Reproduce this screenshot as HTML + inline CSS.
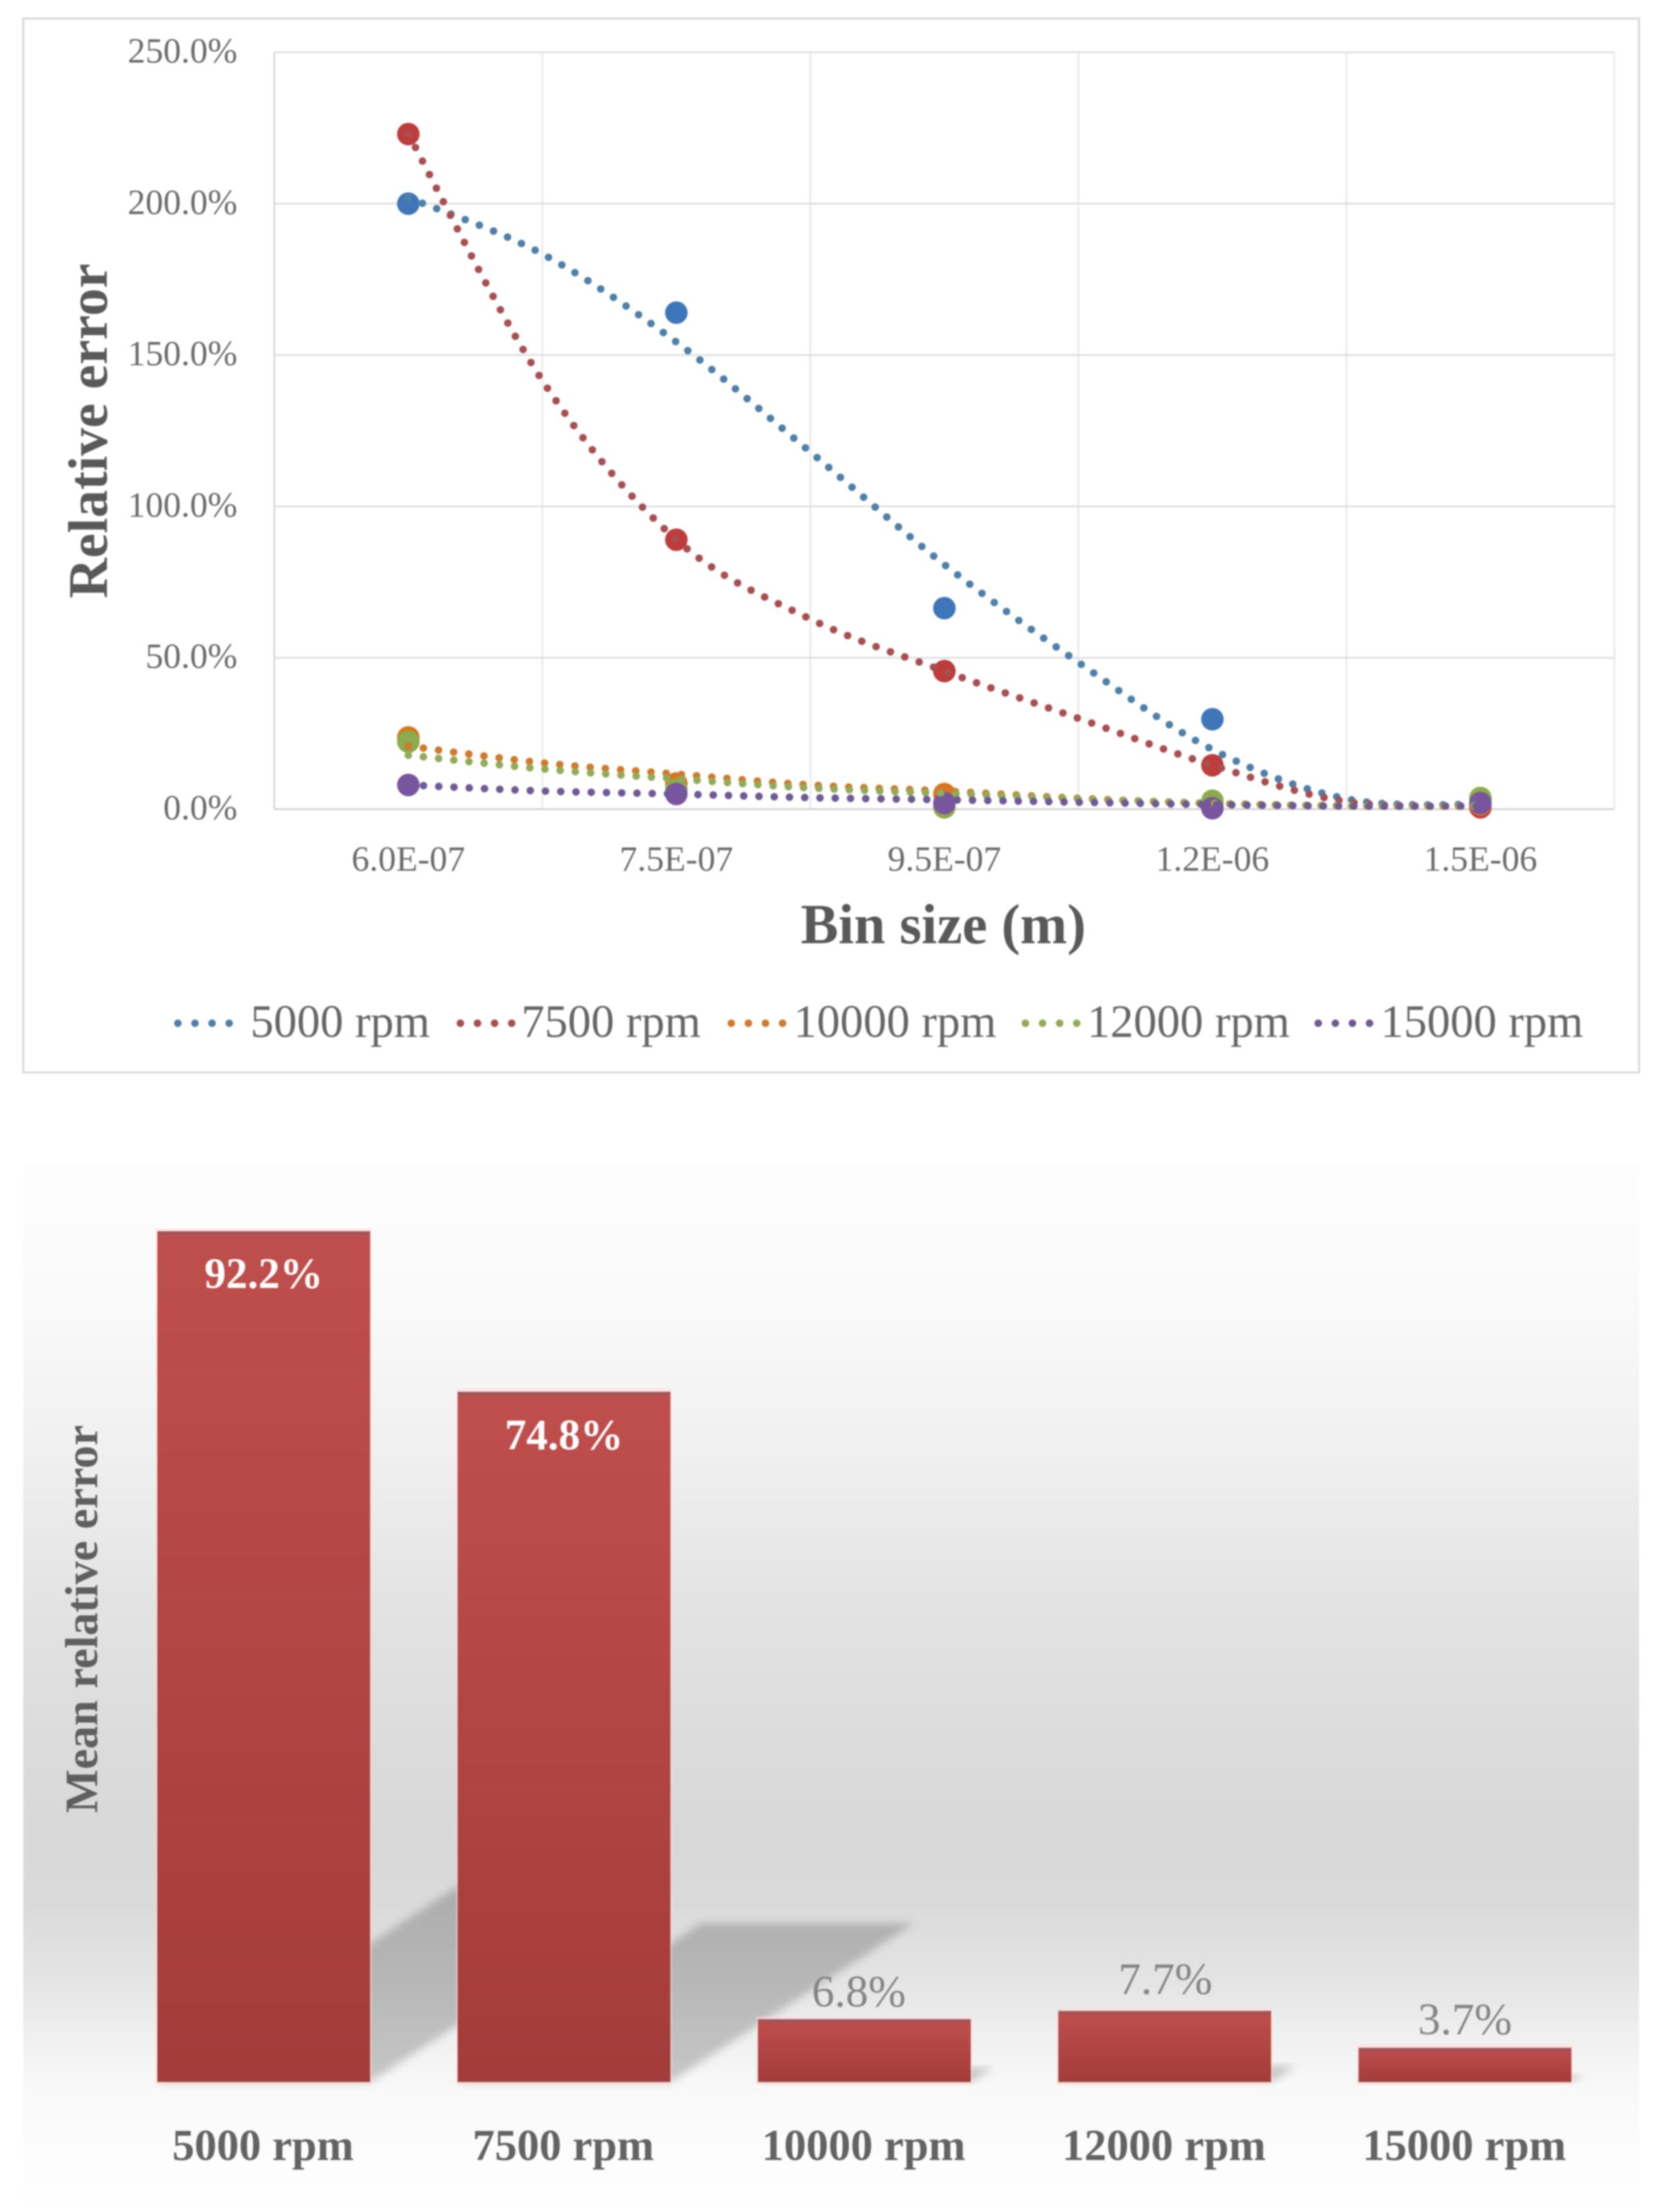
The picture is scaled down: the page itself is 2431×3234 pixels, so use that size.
<!DOCTYPE html>
<html lang="en">
<head>
<meta charset="utf-8">
<title>Relative error vs bin size and mean relative error</title>
<style>
html,body{margin:0;padding:0;background:#fff;}
svg{display:block;filter:blur(1px);}
text{font-family:"Liberation Serif",serif;}
</style>
</head>
<body>
<svg id="figure" xmlns="http://www.w3.org/2000/svg" width="2431" height="3234" viewBox="0 0 2431 3234">
  <defs>
    <linearGradient id="panelGrad" gradientUnits="userSpaceOnUse" x1="0" y1="1704" x2="0" y2="3234">
      <stop offset="0" stop-color="#fdfdfd"/>
      <stop offset="0.136" stop-color="#fafafa"/>
      <stop offset="0.167" stop-color="#f7f7f7"/>
      <stop offset="0.272" stop-color="#f0f0f0"/>
      <stop offset="0.408" stop-color="#e4e4e4"/>
      <stop offset="0.544" stop-color="#dcdcdc"/>
      <stop offset="0.647" stop-color="#d8d8d8"/>
      <stop offset="0.715" stop-color="#dbdbdb"/>
      <stop offset="0.783" stop-color="#e5e5e5"/>
      <stop offset="0.844" stop-color="#f2f2f2"/>
      <stop offset="0.885" stop-color="#f9f9f9"/>
      <stop offset="0.953" stop-color="#fdfdfd"/>
      <stop offset="1" stop-color="#ffffff"/>
    </linearGradient>
    <linearGradient id="barGrad" x1="0" y1="0" x2="0" y2="1">
      <stop offset="0" stop-color="#bf4f4d"/>
      <stop offset="1" stop-color="#a33c3a"/>
    </linearGradient>
    <filter id="shadowBlur" x="-20%" y="-20%" width="140%" height="140%">
      <feGaussianBlur stdDeviation="6"/>
    </filter>
  </defs>

  <rect x="34" y="27" width="2362" height="1541" fill="#ffffff" stroke="#d9d9d9" stroke-width="3"/>
  <g id="gridTop"></g>
  <g id="marksTop"></g>
  <g id="trendsTop"></g>
  <g id="ticksTop" font-size="52" fill="#6b6b6b"></g>

  <text transform="translate(156,630) rotate(-90)" text-anchor="middle" font-size="81.5" font-weight="bold" fill="#595959">Relative error</text>
  <text x="1379" y="1379" text-anchor="middle" font-size="82.5" font-weight="bold" fill="#595959">Bin size (m)</text>

  <g font-size="68" fill="#666666">
    <g>
      <line x1="260" y1="1496" x2="336" y2="1496" stroke="#4f80a8" stroke-width="11" stroke-linecap="round" stroke-dasharray="0 25"/>
      <text x="366" y="1516">5000 rpm</text>
    </g>
    <g>
      <line x1="673" y1="1496" x2="749" y2="1496" stroke="#a84f50" stroke-width="11" stroke-linecap="round" stroke-dasharray="0 25"/>
      <text x="762" y="1516">7500 rpm</text>
    </g>
    <g>
      <line x1="1069" y1="1496" x2="1145" y2="1496" stroke="#d07a2c" stroke-width="11" stroke-linecap="round" stroke-dasharray="0 25"/>
      <text x="1160" y="1516">10000 rpm</text>
    </g>
    <g>
      <line x1="1499" y1="1496" x2="1575" y2="1496" stroke="#93ab58" stroke-width="11" stroke-linecap="round" stroke-dasharray="0 25"/>
      <text x="1589" y="1516">12000 rpm</text>
    </g>
    <g>
      <line x1="1927" y1="1496" x2="2003" y2="1496" stroke="#6f5a96" stroke-width="11" stroke-linecap="round" stroke-dasharray="0 25"/>
      <text x="2018" y="1516">15000 rpm</text>
    </g>
  </g>

  <rect x="34" y="1704" width="2362" height="1530" fill="url(#panelGrad)"/>
  <text transform="translate(142,2367) rotate(-90)" text-anchor="middle" font-size="67.5" font-weight="bold" fill="#5f5f5f">Mean relative error</text>
  <g id="shadowsBar"></g>
  <g id="barsBar"></g>
  <g id="labelsBar"></g>

  <script>
    // ---- Line chart data ----
    const binSizes = ["6.0E-07", "7.5E-07", "9.5E-07", "1.2E-06", "1.5E-06"];
    const yTickValues = [0, 50, 100, 150, 200, 250];
    const yTickLabels = ["0.0%", "50.0%", "100.0%", "150.0%", "200.0%", "250.0%"];
    const seriesNames = ["5000-rpm", "7500-rpm", "10000-rpm", "12000-rpm", "15000-rpm"];

    const points5000 = [200, 164, 66.4, 29.7, 1.5];
    const points7500 = [223, 89, 45.6, 14.5, 0.6];
    const points10000 = [23.7, 8.5, 5, 2, 1.5];
    const points12000 = [22.3, 6.5, 0.6, 2.8, 3.7];
    const points15000 = [8, 5, 2, 0.3, 2];

    // Trendline readings at every half category step
    const trend5000 = [202, 183.4, 154.3, 118, 80.8, 48.5, 19.7, 3.4, 1.5];
    const trend7500 = [223, 141.6, 89, 62.8, 45.6, 30, 14.5, 2.5, 1];
    const trend10000 = [20.8, 15.3, 11.6, 8, 6, 3.6, 1.9, 1.1, 1];
    const trend12000 = [17.8, 13.3, 10, 7, 5.2, 3.4, 1.9, 1.1, 1];
    const trend15000 = [8, 6, 5, 3.8, 3.1, 2.3, 1.5, 1, 1];

    // ---- Bar chart data ----
    const barCategories = ["5000 rpm", "7500 rpm", "10000 rpm", "12000 rpm", "15000 rpm"];
    const barValues = [92.2, 74.8, 6.8, 7.7, 3.7];

    const allPoints = [points5000, points7500, points10000, points12000, points15000];
    const allTrends = [trend5000, trend7500, trend10000, trend12000, trend15000];
    const markerColors = ["#3f76b9", "#bd3c3c", "#d8761f", "#8cab4c", "#7a559f"];
    const trendColors = ["#4f80a8", "#a84f50", "#d07a2c", "#93ab58", "#6f5a96"];

    const NS = "http://www.w3.org/2000/svg";
    function make(tag, parent, attrs) {
      const el = document.createElementNS(NS, tag);
      for (const k in attrs) el.setAttribute(k, attrs[k]);
      parent.appendChild(el);
      return el;
    }

    // Axis functions: line chart
    const plotLeft = 401, plotRight = 2360, plotZero = 1183, pxPerPercent = 4.426;
    const catWidth = (plotRight - plotLeft) / binSizes.length;
    function xTop(i) { return plotLeft + catWidth * (i + 0.5); }
    function yTop(v) { return plotZero - v * pxPerPercent; }

    // Axis functions: bar chart
    const barZero = 3044, barPxPerPercent = 13.49, barLeftStart = 166, barPitch = 439, barWidth = 311;
    function xBar(i) { return barLeftStart + barPitch * (i + 0.5); }
    function yBar(v) { return barZero - v * barPxPerPercent; }

    const gridTop = document.getElementById("gridTop");
    const ticksTop = document.getElementById("ticksTop");
    const marksTop = document.getElementById("marksTop");
    const trendsTop = document.getElementById("trendsTop");

    // vertical gridlines
    for (let i = 0; i <= binSizes.length; i++) {
      const gx = plotLeft + catWidth * i;
      const vLine = make("line", gridTop, { x1: gx, x2: gx, y1: yTop(250), y2: yTop(0), stroke: i === 0 ? "#d4d4d4" : "#e9e9e9", "stroke-width": 2.5 });
      
      
    }
    // horizontal gridlines and y tick labels
    yTickValues.forEach(function (v, i) {
      const hLine = make("line", gridTop, { x1: plotLeft, x2: plotRight, y1: yTop(v), y2: yTop(v), stroke: v === 0 ? "#d0d0d0" : "#dedede", "stroke-width": 2.5 });
      
      
      const t = make("text", ticksTop, { x: 347, y: yTop(v) + 15, "text-anchor": "end" });
      t.textContent = yTickLabels[i];
      
      
    });
    // x tick labels
    binSizes.forEach(function (label, i) {
      const t = make("text", ticksTop, { x: xTop(i), y: 1273, "text-anchor": "middle" });
      t.textContent = label;
      
      
    });

    // markers
    allPoints.forEach(function (pts, s) {
      pts.forEach(function (v, i) {
        const c = make("circle", marksTop, { cx: xTop(i), cy: yTop(v), r: 16.5, fill: markerColors[s] });
        
        
      });
    });

    // trendlines: Catmull-Rom curve through readings
    function curve(pts) {
      let d = "M" + pts[0][0] + " " + pts[0][1];
      for (let i = 0; i < pts.length - 1; i++) {
        const p0 = pts[Math.max(i - 1, 0)], p1 = pts[i], p2 = pts[i + 1], p3 = pts[Math.min(i + 2, pts.length - 1)];
        const c1x = p1[0] + (p2[0] - p0[0]) / 6, c1y = p1[1] + (p2[1] - p0[1]) / 6;
        const c2x = p2[0] - (p3[0] - p1[0]) / 6, c2y = p2[1] - (p3[1] - p1[1]) / 6;
        d += "C" + c1x + " " + c1y + " " + c2x + " " + c2y + " " + p2[0] + " " + p2[1];
      }
      return d;
    }
    allTrends.forEach(function (vals, s) {
      const pts = vals.map(function (v, k) { return [xTop(k / 2), yTop(v)]; });
      const p = make("path", trendsTop, { d: curve(pts), fill: "none", stroke: trendColors[s], "stroke-width": 11, "stroke-linecap": "round", "stroke-dasharray": "0 22.3" });
      
      
    });

    // bars
    const shadowsBar = document.getElementById("shadowsBar");
    const barsBar = document.getElementById("barsBar");
    const labelsBar = document.getElementById("labelsBar");
    const labelNudgeX = [0, 0, -8, 1, 0];
    const labelNudgeY = [-2, -1, 2, -4, 1];
    barValues.forEach(function (v, i) {
      const left = xBar(i) - barWidth / 2, right = xBar(i) + barWidth / 2;
      const top = yBar(v), h = barZero - top;
      const sh = h * 0.23, dx = sh * 1.534;

      const shadow = make("polygon", shadowsBar, {
        points: left + "," + barZero + " " + right + "," + barZero + " " + (right + dx) + "," + (barZero - sh) + " " + (left + dx) + "," + (barZero - sh),
        fill: "#000000", "fill-opacity": 0.2, filter: "url(#shadowBlur)"
      });
      
      

      const halo = make("rect", barsBar, { x: left - 2, y: top - 4, width: barWidth + 4, height: h + 8, fill: "#ffd8d0", "fill-opacity": 0.6 });
      
      

      const bar = make("rect", barsBar, { x: left, y: top, width: barWidth, height: h, fill: "url(#barGrad)" });
      
      

      const edge = make("rect", barsBar, { x: left, y: top, width: barWidth, height: 5, fill: "#a2535a" });
      
      

      const base = make("rect", barsBar, { x: left, y: barZero - 3, width: barWidth, height: 3, fill: "#984446" });
      
      

      const inside = v > 50;
      const val = make("text", labelsBar, {
        x: xBar(i) + labelNudgeX[i], y: (inside ? top + 85 : top - 21) + labelNudgeY[i], "text-anchor": "middle",
        "font-size": inside ? 63 : 66, "font-weight": inside ? "bold" : "normal", fill: inside ? "#ffffff" : "#858585"
      });
      val.textContent = v.toFixed(1) + "%";
      
      

      const cat = make("text", labelsBar, { x: xBar(i) - 1, y: 3158, "text-anchor": "middle", "font-size": 65, "font-weight": "bold", fill: "#636363" });
      cat.textContent = barCategories[i];
      
      
    });
  </script>
</svg>
</body>
</html>
